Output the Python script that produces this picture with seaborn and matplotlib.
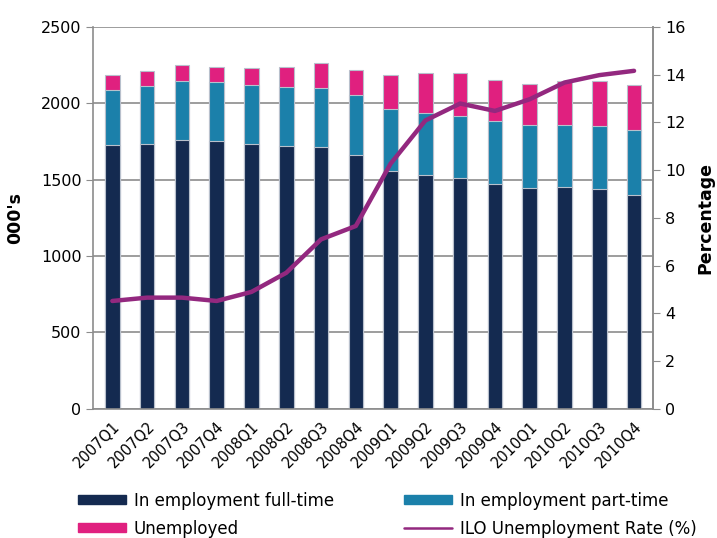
import matplotlib
matplotlib.use("Agg")
import matplotlib.pyplot as plt
import numpy as np
import seaborn as sns
from matplotlib.patches import Patch
from matplotlib.lines import Line2D

quarters = ["2007Q1", "2007Q2", "2007Q3", "2007Q4",
            "2008Q1", "2008Q2", "2008Q3", "2008Q4",
            "2009Q1", "2009Q2", "2009Q3", "2009Q4",
            "2010Q1", "2010Q2", "2010Q3", "2010Q4"]
full_time = [1727, 1731, 1763, 1753, 1733, 1718, 1711, 1659,
             1559, 1531, 1511, 1470, 1444, 1450, 1437, 1398]
part_time = [358, 380, 383, 384, 389, 391, 391, 394,
             402, 404, 409, 415, 411, 405, 414, 427]
unemployed = [100, 102, 104, 98, 107, 128, 161, 167,
              224, 263, 278, 266, 274, 293, 297, 295]
ilo_rate = [4.52, 4.66, 4.66, 4.52, 4.90, 5.70, 7.10, 7.66,
            10.27, 12.08, 12.79, 12.48, 12.97, 13.67, 13.98, 14.16]

c_ft = "#142a50"
c_pt = "#1b80aa"
c_un = "#e0207f"
c_line = "#93287f"
grey = "#8c8c8c"

sns.set_style("white", {"text.color": "black", "xtick.color": "black",
                        "ytick.color": "black", "axes.labelcolor": "black"})
plt.rcParams['font.family'] = ['DejaVu Sans']

ft = np.array(full_time)
emp = ft + np.array(part_time)
total = emp + np.array(unemployed)

fig = plt.figure(figsize=(7.17, 5.38), dpi=100)
ax = fig.add_axes([0.130, 0.240, 0.781, 0.710])

# stacked bars drawn as overlapping cumulative totals
bar_kw = dict(width=0.42, edgecolor="#b8c0cc", linewidth=0.8, ax=ax)
sns.barplot(x=quarters, y=total, color=c_un, saturation=1, **bar_kw)
sns.barplot(x=quarters, y=emp, color=c_pt, saturation=1, **bar_kw)
sns.barplot(x=quarters, y=ft, color=c_ft, saturation=1, **bar_kw)

ax.set_ylim(0, 2500)
ax.set_yticks(range(0, 2501, 500))
ax.set_xlim(-0.55, 15.55)
ax.yaxis.grid(True, color=grey, linewidth=1.2)
ax.set_axisbelow(True)
for side in ["left", "bottom", "right"]:
    ax.spines[side].set_color(grey)
    ax.spines[side].set_linewidth(1.2)
ax.spines["top"].set_visible(False)
ax.tick_params(axis="y", which="both", left=True, length=5, color=grey,
               labelcolor="black", labelsize=11.5)
ax.tick_params(axis="x", bottom=True, length=4, color=grey, labelcolor="black",
               labelsize=10.5, pad=7)
ax.set_xticks(np.arange(-0.5, 16, 1), minor=True)
ax.tick_params(axis="x", which="minor", length=5, color=grey)
ax.tick_params(axis="x", which="major", length=0)
plt.setp(ax.get_xticklabels(), rotation=45, ha="right", rotation_mode="anchor")
ax.set_xlabel("")
ax.set_ylabel("000's", fontsize=12.5, fontweight="bold", labelpad=12, color="black")

ax2 = ax.twinx()
sns.lineplot(x=np.arange(len(quarters)), y=ilo_rate, color=c_line, linewidth=3.2, ax=ax2)
ax2.set_ylim(0, 16)
ax2.set_yticks(range(0, 17, 2))
ax2.set_xlim(-0.55, 15.55)
for side in ["left", "top", "bottom"]:
    ax2.spines[side].set_visible(False)
ax2.spines["right"].set_color(grey)
ax2.spines["right"].set_linewidth(1.2)
ax2.tick_params(axis="y", right=True, length=5, color=grey, labelcolor="black",
                labelsize=11.5)
ax2.set_ylabel("Percentage", fontsize=12.5, fontweight="bold", labelpad=8, color="black")

handles = [Patch(color=c_ft), Patch(color=c_un), Patch(color=c_pt),
           Line2D([0], [0], color=c_line, linewidth=1.8)]
labels = ["In employment full-time", "Unemployed",
          "In employment part-time", "ILO Unemployment Rate (%)"]
fig.legend(handles, labels, ncol=2, loc="lower left", bbox_to_anchor=(0.088, -0.027),
           frameon=False, fontsize=12, handlelength=2.9, handleheight=0.5,
           columnspacing=4.2, labelspacing=0.6, handletextpad=0.45,
           labelcolor="black")

fig.savefig("out.png", dpi=100)
